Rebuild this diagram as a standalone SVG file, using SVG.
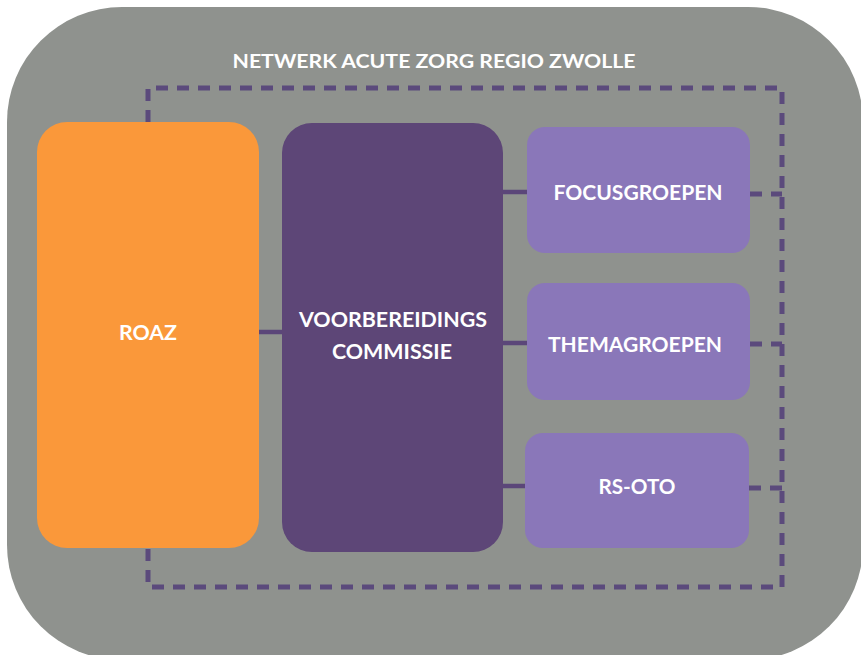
<svg xmlns="http://www.w3.org/2000/svg" width="861" height="655" viewBox="0 0 861 655">
<style>
.lbl{font-family:Lato,"Open Sans","Liberation Sans",sans-serif;font-weight:bold;fill:#ffffff;text-anchor:middle}
.solid{stroke:#5b4679;stroke-width:4.5;fill:none}
.dash{stroke:#5b4a7c;stroke-width:5;fill:none;stroke-dasharray:12 9}
</style>
<rect x="0" y="0" width="861" height="655" fill="#ffffff"/>
<g id="frame">
<rect x="7" y="7" width="856" height="653" rx="115" ry="115" fill="#8f928e"/>
<text class="lbl" x="434" y="68" font-size="19" textLength="403" lengthAdjust="spacingAndGlyphs">NETWERK ACUTE ZORG REGIO ZWOLLE</text>
</g>
<g id="connectors">
<path class="dash" d="M148 122 V88 H782 V587 H148 V548"/>
<line class="solid" x1="259" y1="332" x2="283" y2="332"/>
<line class="solid" x1="502" y1="192" x2="528" y2="192"/>
<line class="solid" x1="502" y1="343" x2="528" y2="343"/>
<line class="solid" x1="502" y1="486" x2="526" y2="486"/>
<path class="dash" d="M750 194 H782" stroke-dasharray="10 6"/>
<path class="dash" d="M750 344 H782" stroke-dasharray="10 6"/>
<path class="dash" d="M749 488 H782" stroke-dasharray="10 6"/>
</g>
<g id="roaz">
<rect x="37" y="122" width="222" height="426" rx="30" fill="#fa983a"/>
<text class="lbl" x="148" y="340" font-size="21" textLength="58" lengthAdjust="spacingAndGlyphs">ROAZ</text>
</g>
<g id="voorbereidingscommissie">
<rect x="282" y="123" width="221" height="429" rx="30" fill="#5d4677"/>
<text class="lbl" x="393" y="327" font-size="21" textLength="188" lengthAdjust="spacingAndGlyphs">VOORBEREIDINGS</text>
<text class="lbl" x="392" y="359" font-size="21" textLength="120" lengthAdjust="spacingAndGlyphs">COMMISSIE</text>
</g>
<g id="focusgroepen">
<rect x="527" y="127" width="223" height="126" rx="18" fill="#8a77b9"/>
<text class="lbl" x="638" y="200" font-size="21" textLength="169" lengthAdjust="spacingAndGlyphs">FOCUSGROEPEN</text>
</g>
<g id="themagroepen">
<rect x="527" y="283" width="223" height="117" rx="18" fill="#8a77b9"/>
<text class="lbl" x="635" y="352" font-size="21" textLength="174" lengthAdjust="spacingAndGlyphs">THEMAGROEPEN</text>
</g>
<g id="rs-oto">
<rect x="525" y="433" width="224" height="115" rx="18" fill="#8a77b9"/>
<text class="lbl" x="637" y="494" font-size="21" textLength="77" lengthAdjust="spacingAndGlyphs">RS-OTO</text>
</g>
</svg>
